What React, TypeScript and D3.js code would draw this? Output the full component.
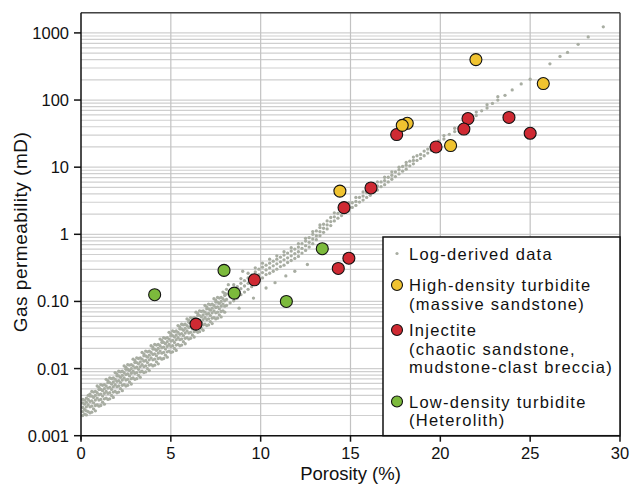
import * as d3 from 'd3';
import React from 'react';

// axis ticks
const porosityTicks = [0, 5, 10, 15, 20, 25, 30];
const permTicks = [0.001, 0.01, 0.1, 1, 10, 100, 1000];
const permTickLabels = ['0.001', '0.01', '0.10', '1', '10', '100', '1000'];

// core samples (porosity %, gas permeability mD)
const highDensityPorosity = [21.98, 25.73, 18.16, 17.88, 20.57, 14.41];
const highDensityPerm = [400, 176, 45, 42, 21, 4.4];

const injectitePorosity = [21.54, 23.82, 21.31, 17.57, 25.0, 19.76, 16.14, 14.64, 14.91, 14.32, 9.65, 6.4];
const injectitePerm = [53, 55, 37, 30.6, 32, 20, 4.9, 2.5, 0.44, 0.31, 0.21, 0.046];

const lowDensityPorosity = [13.43, 7.96, 4.1, 8.53, 11.43];
const lowDensityPerm = [0.61, 0.29, 0.126, 0.133, 0.1];

// log-derived data: porosity, then log10(permeability) of the dots at that porosity
const logDerivedRows: [number, number[]][] = [
  [0.1, [-2.70, -2.64, -2.58, -2.51, -2.46]], [0.2, [-2.68, -2.61, -2.53, -2.47]],
  [0.3, [-2.69, -2.63, -2.57, -2.50, -2.44]], [0.4, [-2.64, -2.54, -2.46, -2.40]],
  [0.5, [-2.66, -2.57, -2.49, -2.41, -2.38]], [0.6, [-2.65, -2.56, -2.48, -2.41, -2.34]],
  [0.7, [-2.60, -2.51, -2.43, -2.35]], [0.8, [-2.63, -2.55, -2.47, -2.40, -2.34]],
  [0.9, [-2.54, -2.44, -2.36, -2.26]], [1.0, [-2.56, -2.47, -2.39, -2.31, -2.28]],
  [1.1, [-2.55, -2.46, -2.38, -2.31, -2.24]], [1.2, [-2.50, -2.41, -2.33, -2.25]],
  [1.3, [-2.53, -2.45, -2.37, -2.30, -2.24]], [1.4, [-2.44, -2.34, -2.26, -2.16]],
  [1.5, [-2.46, -2.37, -2.29, -2.21, -2.18]], [1.6, [-2.45, -2.36, -2.28, -2.21, -2.14]],
  [1.7, [-2.40, -2.31, -2.23, -2.15]], [1.8, [-2.43, -2.35, -2.27, -2.20, -2.14]],
  [1.9, [-2.34, -2.24, -2.16, -2.06]], [2.0, [-2.36, -2.27, -2.19, -2.11, -2.08]],
  [2.1, [-2.35, -2.26, -2.18, -2.11, -2.04]], [2.2, [-2.30, -2.21, -2.13, -2.05]],
  [2.3, [-2.33, -2.25, -2.17, -2.10, -2.04]], [2.4, [-2.24, -2.14, -2.06, -1.96]],
  [2.5, [-2.26, -2.17, -2.09, -2.01, -1.98]], [2.6, [-2.25, -2.16, -2.08, -2.01, -1.94]],
  [2.7, [-2.20, -2.11, -2.03, -1.95]], [2.8, [-2.23, -2.15, -2.07, -2.00, -1.94]],
  [2.9, [-2.14, -2.04, -1.96, -1.86]], [3.0, [-2.16, -2.07, -1.99, -1.91, -1.88]],
  [3.1, [-2.15, -2.06, -1.98, -1.91, -1.84]], [3.2, [-2.10, -2.01, -1.93, -1.85]],
  [3.3, [-2.13, -2.05, -1.97, -1.90, -1.84]], [3.4, [-2.04, -1.94, -1.86, -1.76]],
  [3.5, [-2.06, -1.97, -1.89, -1.81, -1.78]], [3.6, [-2.05, -1.96, -1.88, -1.81, -1.74]],
  [3.7, [-2.00, -1.91, -1.83, -1.75]], [3.8, [-2.03, -1.95, -1.87, -1.80, -1.74]],
  [3.9, [-1.94, -1.84, -1.76, -1.66]], [4.0, [-1.96, -1.87, -1.79, -1.71, -1.68]],
  [4.1, [-1.95, -1.86, -1.78, -1.71, -1.64]], [4.2, [-1.90, -1.81, -1.73, -1.65]],
  [4.3, [-1.93, -1.85, -1.77, -1.70, -1.64]], [4.4, [-1.84, -1.74, -1.66, -1.56]],
  [4.5, [-1.86, -1.77, -1.69, -1.61, -1.58]], [4.6, [-1.85, -1.76, -1.68, -1.61, -1.54]],
  [4.7, [-1.80, -1.71, -1.63, -1.55]], [4.8, [-1.83, -1.75, -1.67, -1.60, -1.54]],
  [4.9, [-1.74, -1.64, -1.56, -1.46]], [5.0, [-1.76, -1.67, -1.59, -1.51, -1.48]],
  [5.1, [-1.75, -1.66, -1.58, -1.51, -1.44]], [5.2, [-1.70, -1.61, -1.53, -1.45]],
  [5.3, [-1.73, -1.65, -1.57, -1.50, -1.44]], [5.4, [-1.64, -1.54, -1.46, -1.36]],
  [5.5, [-1.66, -1.57, -1.49, -1.41, -1.38]], [5.6, [-1.65, -1.56, -1.48, -1.41, -1.34]],
  [5.7, [-1.60, -1.51, -1.43, -1.35]], [5.8, [-1.63, -1.55, -1.47, -1.40, -1.34]],
  [5.9, [-1.54, -1.44, -1.36, -1.26]], [6.0, [-1.56, -1.47, -1.39, -1.31, -1.28]],
  [6.1, [-1.55, -1.46, -1.38, -1.31, -1.24]], [6.2, [-1.50, -1.41, -1.33, -1.25]],
  [6.3, [-1.53, -1.45, -1.37, -1.30, -1.24]], [6.4, [-1.44, -1.34, -1.26, -1.16]],
  [6.5, [-1.46, -1.37, -1.29, -1.21, -1.18]], [6.6, [-1.45, -1.36, -1.28, -1.21, -1.14]],
  [6.7, [-1.40, -1.31, -1.23, -1.15]], [6.8, [-1.43, -1.35, -1.27, -1.20, -1.14]],
  [6.9, [-1.34, -1.24, -1.16, -1.06]], [7.0, [-1.36, -1.27, -1.19, -1.11, -1.08]],
  [7.1, [-1.35, -1.26, -1.18, -1.11, -1.04]], [7.2, [-1.30, -1.21, -1.13, -1.05]],
  [7.3, [-1.33, -1.25, -1.17, -1.10, -1.04]], [7.4, [-1.24, -1.14, -1.06, -0.96]],
  [7.5, [-1.26, -1.17, -1.09, -1.01, -0.98]], [7.6, [-1.25, -1.16, -1.08, -1.01, -0.94]],
  [7.7, [-1.20, -1.11, -1.03, -0.95]], [7.8, [-1.23, -1.15, -1.07, -1.00, -0.94]],
  [7.9, [-1.14, -1.04, -0.96, -0.86]], [8.0, [-1.16, -1.07, -0.99, -0.91, -0.88]],
  [8.1, [-1.06, -0.97, -0.89, -0.82]], [8.2, [-0.75]], [8.3, [-1.02, -0.93, -0.85]],
  [8.5, [-0.99, -0.90, -0.82, -0.75]], [8.7, [-0.95, -0.86, -0.78]], [8.8, [-1.10]],
  [8.9, [-0.90, -0.81, -0.73, -0.66]], [9.0, [-0.55]], [9.1, [-0.86, -0.77, -0.69]],
  [9.3, [-0.82, -0.73, -0.65, -0.58]], [9.5, [-0.78, -0.69, -0.61]], [9.6, [-0.95]],
  [9.7, [-0.73, -0.64, -0.56, -0.50]], [9.9, [-0.69, -0.60, -0.52]],
  [10.1, [-0.65, -0.57, -0.49, -0.43]], [10.3, [-0.80, -0.60, -0.53, -0.46]],
  [10.5, [-0.58, -0.50, -0.43, -0.37]], [10.7, [-0.55, -0.47, -0.40]], [10.8, [-0.72]],
  [10.9, [-0.52, -0.44, -0.37, -0.32]], [11.1, [-0.48, -0.41, -0.34]],
  [11.3, [-0.46, -0.38, -0.31, -0.26]], [11.4, [-0.62]], [11.5, [-0.42, -0.35, -0.28]],
  [11.7, [-0.39, -0.32, -0.25, -0.20]], [11.9, [-0.55, -0.36, -0.29, -0.22]],
  [12.1, [-0.33, -0.26, -0.19, -0.14]], [12.3, [-0.28, -0.21, -0.14]],
  [12.5, [-0.24, -0.17, -0.10, -0.06]], [12.6, [-0.45]], [12.7, [-0.19, -0.12, -0.05]],
  [12.9, [-0.14, -0.07, 0.00, 0.04]], [13.1, [-0.08, -0.02, 0.05]],
  [13.3, [-0.02, 0.04, 0.10, 0.14]], [13.5, [0.03, 0.09, 0.15]], [13.7, [0.08, 0.14, 0.20]],
  [13.9, [0.13, 0.19, 0.25]], [14.1, [0.20, 0.26, 0.32]], [14.3, [0.24, 0.31]],
  [14.5, [0.28, 0.34, 0.40]], [14.7, [0.33, 0.40]], [14.9, [0.35, 0.41, 0.47]],
  [15.1, [0.40, 0.47]], [15.3, [0.43, 0.49, 0.55]], [15.5, [0.48, 0.55]],
  [15.7, [0.51, 0.57, 0.63]], [15.9, [0.55, 0.62]], [16.1, [0.58, 0.64, 0.70]],
  [16.3, [0.63, 0.70]], [16.5, [0.66, 0.72, 0.78]], [16.7, [0.71, 0.78]],
  [16.9, [0.74, 0.80, 0.85]], [17.1, [0.78, 0.85]], [17.3, [0.82, 0.88, 0.93]],
  [17.5, [0.86, 0.93]], [17.7, [0.90, 0.96, 1.00]], [17.9, [0.94, 1.01]],
  [18.1, [0.97, 1.03, 1.07]], [18.3, [1.02, 1.09]], [18.5, [1.05, 1.10, 1.15]],
  [18.7, [1.10, 1.17]], [18.9, [1.13, 1.19]], [19.1, [1.17, 1.24]], [19.3, [1.21, 1.27]],
  [19.5, [1.25, 1.31]], [19.7, [1.29, 1.35]], [19.9, [1.33, 1.39]], [20.2, [1.42, 1.47]],
  [20.5, [1.49]], [20.8, [1.53, 1.58]], [21.1, [1.60]], [21.4, [1.65, 1.70]], [21.7, [1.72]],
  [22.0, [1.77, 1.82]], [22.3, [1.84]], [22.6, [1.88, 1.93]], [22.9, [1.95]],
  [23.2, [2.00, 2.05]], [23.6, [2.07]], [24.0, [2.15]], [24.5, [2.24]], [25.0, [2.31]],
  [26.1, [2.54]], [26.66, [2.65]], [27.08, [2.71]], [27.67, [2.83]], [28.23, [2.94]], [29.07, [3.09]],
];

// legend entries
const legendLabels = [
  ['Log-derived data'],
  ['High-density turbidite', '(massive sandstone)'],
  ['Injectite', '(chaotic sandstone,', 'mudstone-clast breccia)'],
  ['Low-density turbidite', '(Heterolith)'],
];

const W = 630, H = 485;
const margin = { top: 12.7, right: 10, bottom: 49.3, left: 81 };
const FONT = '"Liberation Sans", Arial, sans-serif';

const YELLOW = '#f0c330';
const RED = '#cf2a33';
const GREEN = '#7cba3c';
const DOT = '#a8ada2';

function App() {
  const x = d3.scaleLinear().domain([0, 30]).range([margin.left, W - margin.right]);
  const y = d3.scaleLog().domain([0.001, 2000]).range([H - margin.bottom, margin.top]);

  const gridLines: number[] = [];
  permTicks.forEach(t => {
    for (let m = 1; m <= 9; m++) {
      if (t * m <= 2000) gridLines.push(t * m);
    }
  });

  const cloud: [number, number][] = [];
  logDerivedRows.forEach(([p, ks]) => ks.forEach(k => cloud.push([p, Math.pow(10, k)])));

  const groups = [
    { por: lowDensityPorosity, perm: lowDensityPerm, color: GREEN },
    { por: injectitePorosity, perm: injectitePerm, color: RED },
    { por: highDensityPorosity, perm: highDensityPerm, color: YELLOW },
  ];

  const x0 = x(0), x1 = x(30), yb = y(0.001), yt = y(2000);
  const lgX = 383, lgY = 237;
  const legendMarks = [
    { cy: 253.5, color: DOT },
    { cy: 285, color: YELLOW },
    { cy: 330, color: RED },
    { cy: 401.5, color: GREEN },
  ];
  const lineGap = 18.5;

  return (
    <svg width={W} height={H} style={{ position: 'absolute', left: 0, top: 0, background: '#fff' }} fontFamily={FONT}>
      {/* grid */}
      {gridLines.map((v, i) => (
        <line key={'h' + i} x1={x0} x2={x1} y1={y(v)} y2={y(v)} stroke="#cfcfcf" strokeWidth={1.2} />
      ))}
      {porosityTicks.slice(1, -1).map(t => (
        <line key={'v' + t} x1={x(t)} x2={x(t)} y1={yt} y2={yb} stroke="#c2c2c2" strokeWidth={1.2} />
      ))}

      {/* log-derived cloud */}
      {cloud.map((d, i) => (
        <circle key={'c' + i} cx={x(d[0])} cy={y(d[1])} r={1.65} fill={DOT} />
      ))}

      {/* samples */}
      {groups.map((g, gi) =>
        g.por.map((p, i) => (
          <circle key={'s' + gi + '-' + i} cx={x(p)} cy={y(g.perm[i])} r={6} fill={g.color} stroke="#111" strokeWidth={1.1} />
        ))
      )}

      {/* frame */}
      <line x1={x0} x2={x1} y1={yt} y2={yt} stroke="#444" strokeWidth={1.5} />
      <line x1={x1} x2={x1} y1={yt} y2={yb} stroke="#444" strokeWidth={1.5} />
      <line x1={x0} x2={x0} y1={yt} y2={yb + 4} stroke="#111" strokeWidth={1.5} />
      <line x1={x0} x2={x1} y1={yb} y2={yb} stroke="#111" strokeWidth={1.5} />

      {/* y axis */}
      {permTicks.map((t, i) => (
        <g key={'yt' + t}>
          <line x1={x0 - 7} x2={x0} y1={y(t)} y2={y(t)} stroke="#111" strokeWidth={1.5} />
          <text x={x0 - 12} y={y(t)} dy="0.36em" textAnchor="end" fontSize={16.5} fill="#111">{permTickLabels[i]}</text>
        </g>
      ))}
      {/* x axis */}
      {porosityTicks.map(t => (
        <g key={'xt' + t}>
          <line x1={x(t)} x2={x(t)} y1={yb} y2={yb + 6} stroke="#111" strokeWidth={1.5} />
          <text x={x(t)} y={458.5} textAnchor="middle" fontSize={16.5} fill="#111">{t}</text>
        </g>
      ))}

      <text x={(x0 + x1) / 2} y={480} textAnchor="middle" fontSize={18.5} fill="#111">Porosity (%)</text>
      <text transform="translate(27,232) rotate(-90)" textAnchor="middle" fontSize={19} letterSpacing={0.5} fill="#111">Gas permeability (mD)</text>

      {/* legend */}
      <rect x={lgX} y={lgY} width={x1 - lgX} height={yb - lgY} fill="#fff" stroke="#111" strokeWidth={1.5} />
      {legendMarks.map((m, i) =>
        i === 0
          ? <circle key={'lm' + i} cx={397} cy={m.cy} r={1.6} fill={m.color} />
          : <circle key={'lm' + i} cx={397} cy={m.cy} r={5.5} fill={m.color} stroke="#111" strokeWidth={1.1} />
      )}
      {legendLabels.map((lines, i) => (
        <text key={'lt' + i} x={409} y={legendMarks[i].cy + 6} fontSize={16.5} letterSpacing={1.25} fill="#111">
          {lines.map((s, j) => (
            <tspan key={j} x={409} dy={j === 0 ? 0 : lineGap}>{s}</tspan>
          ))}
        </text>
      ))}
    </svg>
  );
}

export default App;
